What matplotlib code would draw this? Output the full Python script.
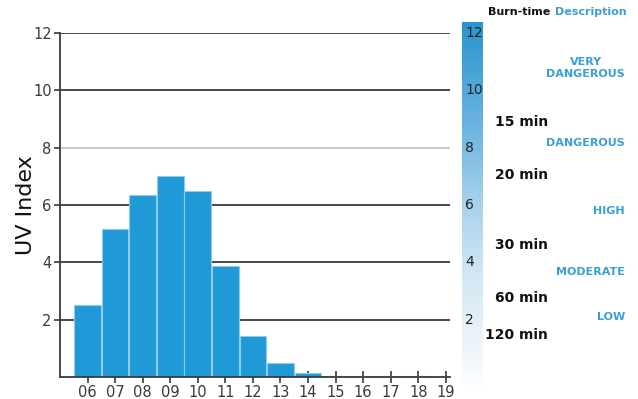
import numpy as np
import matplotlib.pyplot as plt
from matplotlib.colors import LinearSegmentedColormap

# Hourly UV index forecast
hours = [6, 7, 8, 9, 10, 11, 12, 13, 14, 15, 16, 17, 18, 19]
hour_labels = ["06", "07", "08", "09", "10", "11", "12", "13", "14", "15", "16", "17", "18", "19"]
uv_values = [2.5, 5.15, 6.35, 7.0, 6.5, 3.87, 1.43, 0.48, 0.13, 0.04, 0.04, 0.04, 0.04, 0.0]
y_ticks = [2, 4, 6, 8, 10, 12]

# Burn-time and risk description panel
burn_times = ["15 min", "20 min", "30 min", "60 min", "120 min"]
burn_y = [122, 175, 245, 298, 335]
descriptions = ["VERY\nDANGEROUS", "DANGEROUS", "HIGH", "MODERATE", "LOW"]
desc_y = [68, 143, 211, 272, 317]

W, H = 638, 399
fig = plt.figure(figsize=(W / 100, H / 100), dpi=100)
plt.rcParams["font.family"] = ["DejaVu Sans"]

def fx(px):
    return px / W

def fy(py):
    return 1 - py / H

bar_color = "#1f9ad6"
ax = fig.add_axes([fx(60), fy(377), fx(450) - fx(60), fy(33) - fy(377)])
ax.set_axisbelow(True)
ax.bar(hours, uv_values, width=0.97, color=bar_color, edgecolor="#8fcbee",
       linewidth=0.8, zorder=2)

ax.set_xlim(5.0, 19.15)
ax.set_ylim(0, 12)
ax.set_yticks(y_ticks)
ax.set_yticklabels([str(v) for v in y_ticks])
ax.set_xticks(hours)
ax.set_xticklabels(hour_labels)

for v in y_ticks:
    col = "#c4c4c4" if v == 8 else "#3a3a3a"
    ax.axhline(v, color=col, lw=1.3, zorder=1)

for s in ["top", "right"]:
    ax.spines[s].set_visible(False)
ax.spines["left"].set_color("#3a3a3a")
ax.spines["bottom"].set_color("#3a3a3a")
ax.spines["left"].set_linewidth(1.3)
ax.spines["bottom"].set_linewidth(1.3)
ax.tick_params(axis="y", direction="out", length=4, width=1.2, color="#3a3a3a",
               labelsize=10.5, labelcolor="#3a3a3a", pad=2)
ax.tick_params(axis="x", direction="inout", length=9, width=1.2, color="#3a3a3a",
               labelsize=10.5, labelcolor="#3a3a3a", pad=1)
ax.set_ylabel("UV Index", fontsize=16, color="#111111")
ax.yaxis.set_label_coords(-0.062, 0.5)

# Gradient scale bar on the right
cmap = LinearSegmentedColormap.from_list(
    "uvscale", [(0.0, "#ffffff"), (0.08, "#f2f7fb"), (0.3, "#d4e8f4"),
                (0.5, "#a9d2ec"), (0.7, "#6fb6e0"), (1.0, "#2895d0")])
cax = fig.add_axes([fx(462), fy(388), fx(483) - fx(462), fy(22) - fy(388)])
grad = np.linspace(0, 1, 256).reshape(-1, 1)
cax.imshow(grad, aspect="auto", cmap=cmap, origin="lower", extent=[0, 1, 0, 1])
cax.set_axis_off()

for v in y_ticks:
    yy = 377 - v * (344 / 12)
    fig.text(fx(465), fy(yy), str(v), fontsize=10, color="#222222",
             ha="left", va="center")

blue_text = "#3a9fd6"
fig.text(fx(550), fy(12), "Burn-time", fontsize=8, fontweight="bold",
         color="#111111", ha="right", va="center")
fig.text(fx(555), fy(12), "Description", fontsize=8, fontweight="bold",
         color=blue_text, ha="left", va="center")

for label, yy in zip(burn_times, burn_y):
    fig.text(fx(548), fy(yy), label, fontsize=10, fontweight="bold",
             color="#111111", ha="right", va="center")

for label, yy in zip(descriptions, desc_y):
    fig.text(fx(625), fy(yy), label, fontsize=8, fontweight="bold",
             color=blue_text, ha="right", va="center", multialignment="center",
             linespacing=1.15)

fig.savefig("out.png", dpi=100)
